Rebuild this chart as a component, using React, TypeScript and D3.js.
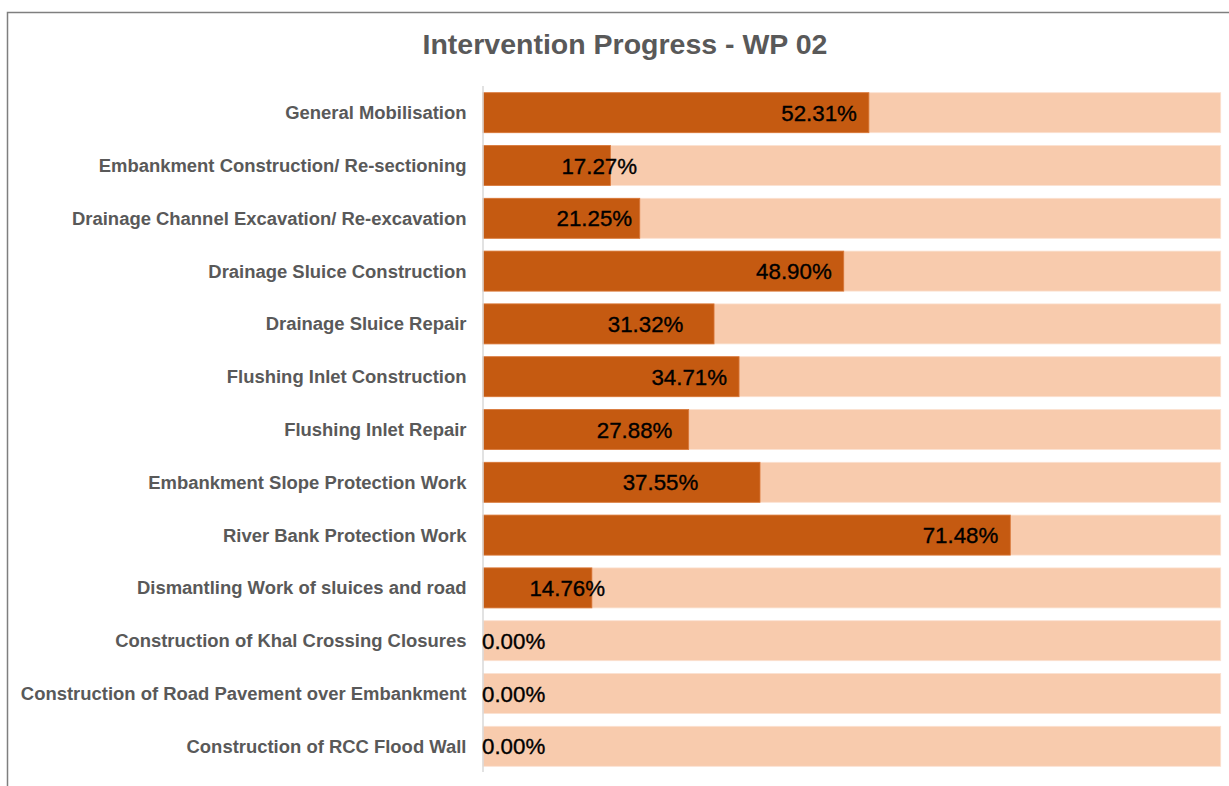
import React, { useEffect, useRef } from "react";
import * as d3 from "d3";

const categories: string[] = [
  "General Mobilisation",
  "Embankment Construction/ Re-sectioning",
  "Drainage Channel Excavation/ Re-excavation",
  "Drainage Sluice Construction",
  "Drainage Sluice Repair",
  "Flushing Inlet Construction",
  "Flushing Inlet Repair",
  "Embankment Slope Protection Work",
  "River Bank Protection Work",
  "Dismantling Work of sluices and road",
  "Construction of Khal Crossing Closures",
  "Construction of Road Pavement over Embankment",
  "Construction of RCC Flood Wall",
];

const progress: number[] = [
  0.5231, 0.1727, 0.2125, 0.489, 0.3132, 0.3471, 0.2788, 0.3755, 0.7148, 0.1476, 0, 0, 0,
];

const target: number[] = [1, 1, 1, 1, 1, 1, 1, 1, 1, 1, 1, 1, 1];

const title = "Intervention Progress - WP 02";

// manual label nudges (px) as placed in the original chart
const labelNudge: number[] = [0, 38.7, 4.4, 0, -18.6, 0, -4.3, -49.7, 0, 25.2, 0, 0, 0];

const W = 1229;
const H = 786;

export default function App() {
  const ref = useRef<SVGSVGElement | null>(null);

  useEffect(() => {
    const svg = d3.select(ref.current);
    svg.selectAll("*").remove();

    const x = d3.scaleLinear().domain([0, 1]).range([483, 1220.7]);
    const y = d3
      .scaleBand<string>()
      .domain(categories)
      .range([86.3, 772.7])
      .paddingInner(0.2424)
      .paddingOuter(0.1212);

    // frame
    svg
      .append("rect")
      .attr("x", 7.5)
      .attr("y", 12.5)
      .attr("width", W + 20)
      .attr("height", H + 20)
      .attr("fill", "#ffffff")
      .attr("stroke", "#7f7f7f")
      .attr("stroke-width", 1.5);

    // title
    svg
      .append("text")
      .attr("x", 625)
      .attr("y", 53.5)
      .attr("text-anchor", "middle")
      .attr("font-family", "'Liberation Sans', Arial, sans-serif")
      .attr("font-weight", "bold")
      .attr("font-size", 28.5)
      .attr("fill", "#595959")
      .text(title);

    const rows = categories.map((c, i) => ({
      c,
      v: progress[i],
      t: target[i],
      nudge: labelNudge[i],
    }));

    // background (target) bars
    svg
      .append("g")
      .selectAll("rect")
      .data(rows)
      .join("rect")
      .attr("x", x(0))
      .attr("y", (d) => y(d.c)!)
      .attr("width", (d) => x(d.t) - x(0))
      .attr("height", y.bandwidth())
      .attr("fill", "#F8CBAD")
      .attr("stroke", "#FBE2D1")
      .attr("stroke-width", 0.8);

    // progress bars
    svg
      .append("g")
      .selectAll("rect")
      .data(rows.filter((d) => d.v > 0))
      .join("rect")
      .attr("x", x(0))
      .attr("y", (d) => y(d.c)!)
      .attr("width", (d) => x(d.v) - x(0))
      .attr("height", y.bandwidth())
      .attr("fill", "#C55A11")
      .attr("stroke", "#D9783A")
      .attr("stroke-width", 0.8);

    // axis line
    svg
      .append("line")
      .attr("x1", x(0))
      .attr("x2", x(0))
      .attr("y1", 86)
      .attr("y2", 772)
      .attr("stroke", "#d9d9d9")
      .attr("stroke-width", 1.5);

    // category labels
    svg
      .append("g")
      .selectAll("text")
      .data(rows)
      .join("text")
      .attr("x", 466.5)
      .attr("y", (d) => y(d.c)! + y.bandwidth() / 2)
      .attr("dy", "0.35em")
      .attr("text-anchor", "end")
      .attr("font-family", "'Liberation Sans', Arial, sans-serif")
      .attr("font-weight", "bold")
      .attr("font-size", 18.45)
      .attr("fill", "#595959")
      .text((d) => d.c);

    // value labels
    svg
      .append("g")
      .selectAll("text")
      .data(rows)
      .join("text")
      .attr("x", (d) => (d.v > 0 ? x(d.v) - 12 + d.nudge : x(0) - 1))
      .attr("y", (d) => y(d.c)! + y.bandwidth() / 2)
      .attr("dy", "0.36em")
      .attr("text-anchor", (d) => (d.v > 0 ? "end" : "start"))
      .attr("font-family", "'Liberation Sans', Arial, sans-serif")
      .attr("font-size", 22.3)
      .attr("fill", "#000000")
      .attr("stroke", "#000000")
      .attr("stroke-width", 0.35)
      .text((d) => d3.format(".2%")(d.v));
  }, []);

  return (
    <div style={{ position: "fixed", left: 0, top: 0, width: W, height: H, overflow: "hidden" }}>
      <svg ref={ref} width={W} height={H} style={{ display: "block" }} />
    </div>
  );
}
